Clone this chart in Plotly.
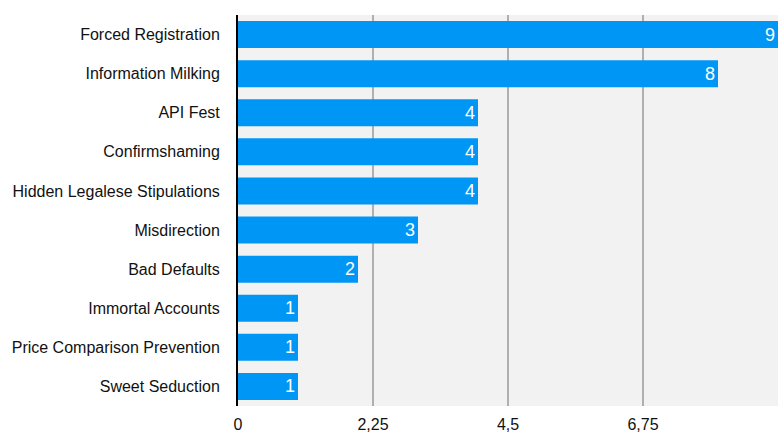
import plotly.graph_objects as go

categories = ["Forced Registration", "Information Milking", "API Fest", "Confirmshaming",
              "Hidden Legalese Stipulations", "Misdirection", "Bad Defaults",
              "Immortal Accounts", "Price Comparison Prevention", "Sweet Seduction"]
values = [9, 8, 4, 4, 4, 3, 2, 1, 1, 1]
tick_vals = [0, 2.25, 4.5, 6.75]
tick_text = ["0", "2,25", "4,5", "6,75"]

fig = go.Figure(go.Bar(
    y=categories, x=values, orientation="h",
    marker=dict(color="#0096f6", line=dict(width=0)),
    width=0.69,
    text=[str(v) for v in values], textposition="inside",
    insidetextanchor="end", constraintext="none",
    textfont=dict(color="white", size=18, family="Liberation Sans, Arial"),
    cliponaxis=False, hoverinfo="skip",
))

fig.update_layout(
    width=778, height=433,
    margin=dict(l=238, r=0, t=15, b=25),
    paper_bgcolor="white", plot_bgcolor="#f2f2f2",
    font=dict(family="Liberation Sans, Arial", size=16, color="#111"),
    showlegend=False,
)
fig.update_xaxes(range=[0, 9], tickvals=tick_vals, ticktext=tick_text,
                 showgrid=True, gridcolor="#b0b0b0", gridwidth=1.5,
                 zeroline=False, showline=False, tickfont=dict(size=16),
                 ticklabelstandoff=7)
fig.update_yaxes(autorange="reversed", showline=True, linecolor="black", linewidth=2,
                 ticks="", ticklabelstandoff=13, showgrid=False, tickfont=dict(size=16))

fig.write_html("out.html", config={"displayModeBar": False},
               post_script="document.body.style.margin='0';document.body.style.overflow='hidden';")
